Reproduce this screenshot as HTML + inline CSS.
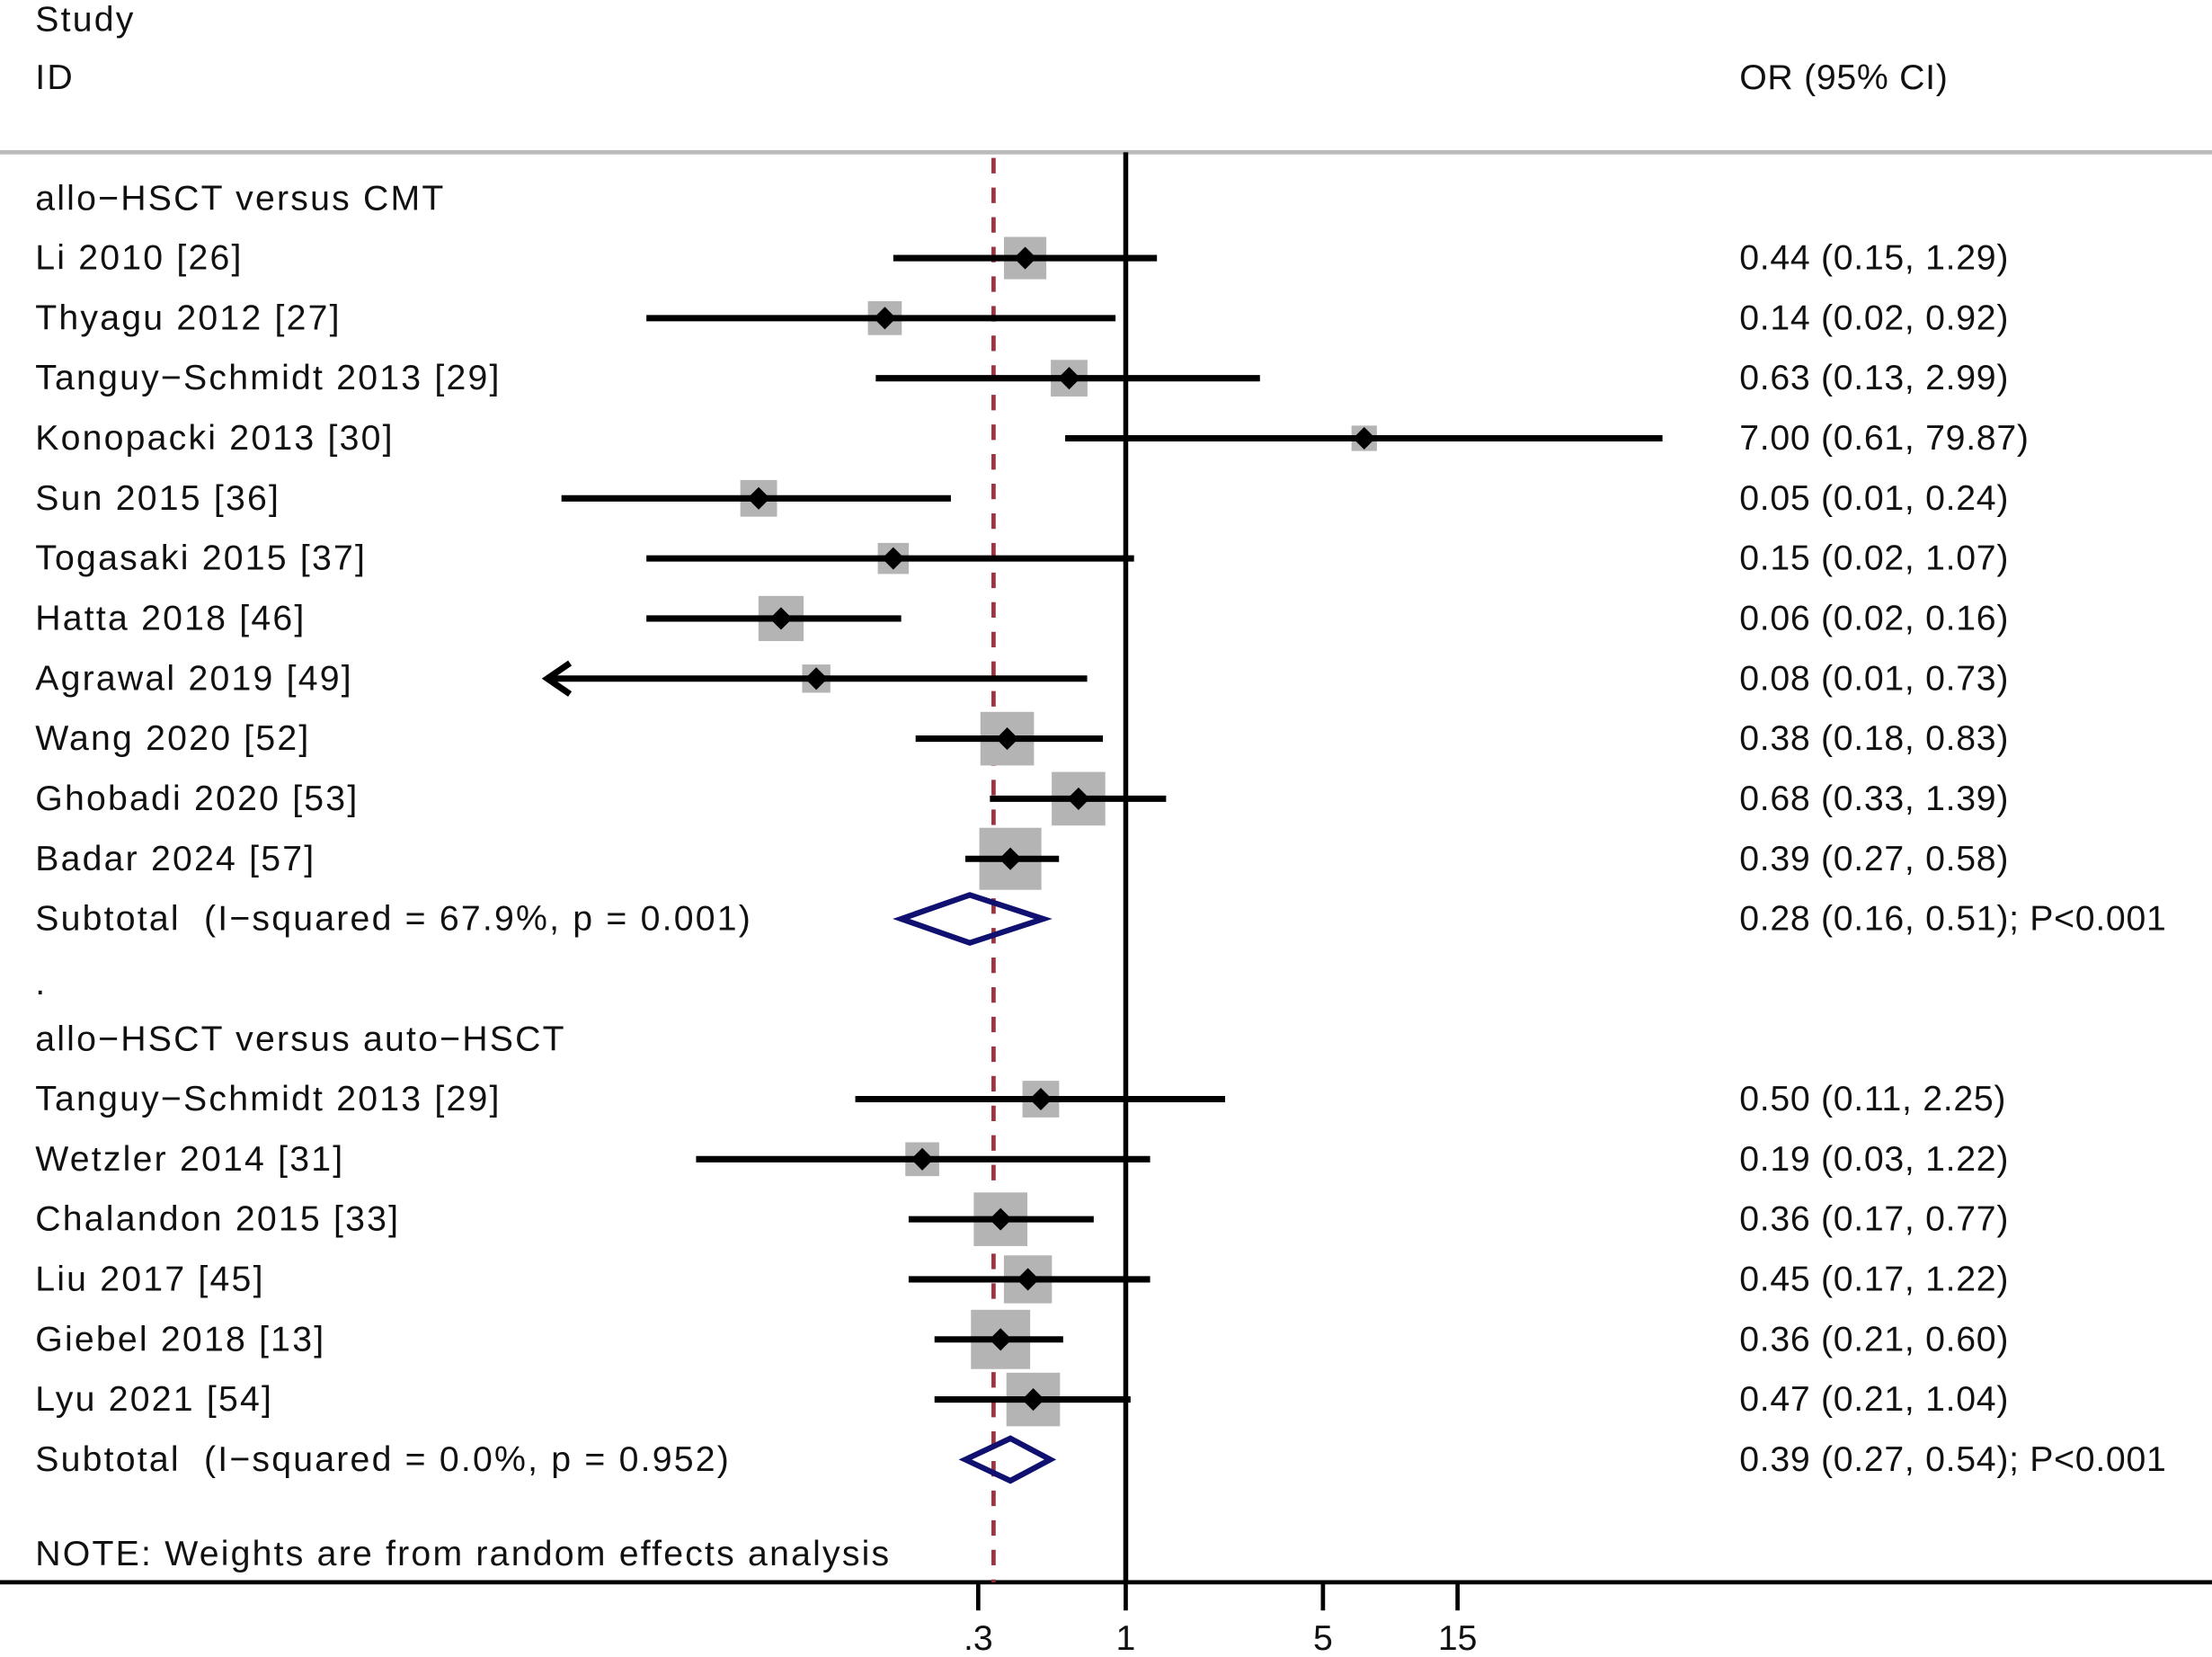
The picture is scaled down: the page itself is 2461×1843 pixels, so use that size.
<!DOCTYPE html>
<html><head><meta charset="utf-8"><style>
html,body{margin:0;padding:0;background:#fff}
svg{display:block}
text{font-family:"Liberation Sans","DejaVu Sans",sans-serif;font-size:25px;fill:#111;white-space:pre}
.lab{letter-spacing:1.4px}
.val{letter-spacing:0.45px}
</style></head><body>
<svg id="chart" width="2461" height="1843" viewBox="0 0 1568 1175" preserveAspectRatio="none" xmlns="http://www.w3.org/2000/svg" xml:space="preserve">
<g id="static">
<text class="lab" x="25" y="22">Study</text>
<text class="lab" x="25" y="63">ID</text>
<text class="val" x="1233" y="63">OR (95% CI)</text>
<line x1="0" y1="108" x2="1568" y2="108" stroke="#bbb" stroke-width="3"/>
<text class="lab" x="25" y="149">allo−HSCT versus CMT</text>
<text class="lab" x="25" y="705">.</text>
<text class="lab" x="25" y="745">allo−HSCT versus auto−HSCT</text>
<text class="lab" x="25" y="1110">NOTE: Weights are from random effects analysis</text>
<line x1="0" y1="1122" x2="1568" y2="1122" stroke="#000" stroke-width="3"/>
</g>
<g id="marks"></g>
</svg>
<script>
const studies=["Li 2010 [26]","Thyagu 2012 [27]","Tanguy−Schmidt 2013 [29]","Konopacki 2013 [30]","Sun 2015 [36]","Togasaki 2015 [37]","Hatta 2018 [46]","Agrawal 2019 [49]","Wang 2020 [52]","Ghobadi 2020 [53]","Badar 2024 [57]",
"Tanguy−Schmidt 2013 [29]","Wetzler 2014 [31]","Chalandon 2015 [33]","Liu 2017 [45]","Giebel 2018 [13]","Lyu 2021 [54]"];
const rowIdx=[0,1,2,3,4,5,6,7,8,9,10,14,15,16,17,18,19];
const orVals=[0.44,0.14,0.63,7.00,0.05,0.15,0.06,0.08,0.38,0.68,0.39,0.50,0.19,0.36,0.45,0.36,0.47];
const lowVals=[0.15,0.02,0.13,0.61,0.01,0.02,0.02,0.01,0.18,0.33,0.27,0.11,0.03,0.17,0.17,0.21,0.21];
const highVals=[1.29,0.92,2.99,79.87,0.24,1.07,0.16,0.73,0.83,1.39,0.58,2.25,1.22,0.77,1.22,0.60,1.04];
const weights=[15,12,13,9,13,11,16,10,19,19,22,13,12,19,17,21,19];
const arrowLeft=[0,0,0,0,0,0,0,1,0,0,0,0,0,0,0,0,0];
const subLabels=["Subtotal  (I−squared = 67.9%, p = 0.001)","Subtotal  (I−squared = 0.0%, p = 0.952)"];
const subRow=[11,20];
const subOR=[0.28,0.39];
const subLow=[0.16,0.27];
const subHigh=[0.51,0.54];
const subText=["0.28 (0.16, 0.51); P<0.001","0.39 (0.27, 0.54); P<0.001"];
const overallOR=0.34;
const ticks=[0.3,1,5,15];
const tickLabels=[".3","1","5","15"];

const X=v=>798+200*Math.log10(v);
const Y=r=>183+r*42.6;
const ns="http://www.w3.org/2000/svg";
const g=document.getElementById('marks');
function mk(t,a){const e=document.createElementNS(ns,t);for(const k in a)e.setAttribute(k,a[k]);g.appendChild(e);return e;}
const f2=v=>v.toFixed(2);

let l=mk('line',{x1:X(1),y1:108,x2:X(1),y2:1122,stroke:'#000','stroke-width':3.5});


l=mk('line',{x1:X(overallOR),y1:112,x2:X(overallOR),y2:1122,stroke:'#9b3340','stroke-width':3,'stroke-dasharray':'11 10'});



studies.forEach((s,i)=>{
  const y=Y(rowIdx[i]);
  let t=mk('text',{x:25,y:y+8,class:'lab'});t.textContent=s;
  
  
  let w=weights[i];
  let sq=mk('rect',{x:X(orVals[i])-w,y:y-w,width:2*w,height:2*w,fill:'#b4b4b4'});
  
  
  let x1=X(lowVals[i]);
  if(arrowLeft[i]) x1=388;
  let ci=mk('line',{x1:x1,y1:y,x2:X(highVals[i]),y2:y,stroke:'#000','stroke-width':4.5});
  
  
  if(arrowLeft[i]){
    let a=mk('polyline',{points:`${x1+16},${y-11} ${x1},${y} ${x1+16},${y+11}`,fill:'none',stroke:'#000','stroke-width':4.5});
    
    
  }
  const cx=X(orVals[i]);
  let d=mk('polygon',{points:`${cx-8},${y} ${cx},${y-8} ${cx+8},${y} ${cx},${y+8}`,fill:'#000'});
  
  
  t=mk('text',{x:1233,y:y+8,class:'val'});t.textContent=`${f2(orVals[i])} (${f2(lowVals[i])}, ${f2(highVals[i])})`;
  
  
});
subLabels.forEach((s,i)=>{
  const y=Y(subRow[i]);
  let t=mk('text',{x:25,y:y+8,class:'lab'});t.textContent=s;
  
  
  const h=i==0?17:15;
  let d=mk('polygon',{points:`${X(subLow[i])},${y} ${X(subOR[i])},${y-h} ${X(subHigh[i])},${y} ${X(subOR[i])},${y+h}`,fill:'none',stroke:'#101070','stroke-width':4});
  
  
  t=mk('text',{x:1233,y:y+8,class:'val'});t.textContent=subText[i];
  
  
});
ticks.forEach((v,i)=>{
  let tk=mk('line',{x1:X(v),y1:1122,x2:X(v),y2:1142,stroke:'#000','stroke-width':3});
  
  
  let t=mk('text',{x:X(v),y:1170,'text-anchor':'middle'});t.textContent=tickLabels[i];
  
  
});
</script>
</body></html>
